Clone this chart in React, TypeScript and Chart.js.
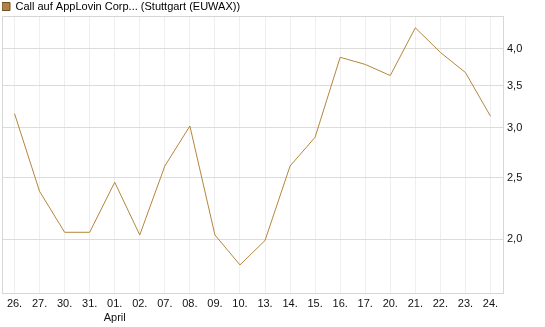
import React, { useEffect, useRef } from "react";
import { Chart, registerables } from "chart.js";

Chart.register(...registerables);

const categories = ["26.", "27.", "30.", "31.", "01.", "02.", "07.", "08.", "09.", "10.", "13.", "14.", "15.", "16.", "17.", "20.", "21.", "22.", "23.", "24."];
const monthLabels = ["", "", "", "", "April", "", "", "", "", "", "", "", "", "", "", "", "", "", "", ""];
const values = [3.16, 2.38, 2.05, 2.05, 2.46, 2.03, 2.61, 3.02, 2.03, 1.82, 1.99, 2.61, 2.9, 3.88, 3.78, 3.63, 4.32, 3.95, 3.67, 3.13];
const yTicks = [2.0, 2.5, 3.0, 3.5, 4.0];
const Y_MIN = 1.643;
const Y_MAX = 4.51;
const seriesName = "Call auf AppLovin Corp... (Stuttgart (EUWAX))";

const FONT = "Arial, 'Liberation Sans', sans-serif";

const frame = {
  id: "frame",
  beforeLayout(chart: any) {
    const lg = chart.legend;
    if (lg && !lg.__wrapped) {
      const orig = lg.fit.bind(lg);
      lg.fit = () => {
        orig();
        lg.height = 15;
      };
      lg.__wrapped = true;
    }
  },
  afterDraw(chart: any) {
    const { ctx, chartArea } = chart;
    ctx.save();
    ctx.strokeStyle = "#d6d6d6";
    ctx.lineWidth = 1;
    ctx.beginPath();
    ctx.moveTo(Math.round(chartArea.left) + 0.5, Math.round(chartArea.bottom));
    ctx.lineTo(Math.round(chartArea.left) + 0.5, Math.round(chartArea.top) + 0.5);
    ctx.lineTo(Math.round(chartArea.right), Math.round(chartArea.top) + 0.5);
    ctx.stroke();
    ctx.restore();
  },
};

export default function App() {
  const ref = useRef<HTMLCanvasElement | null>(null);
  useEffect(() => {
    if (!ref.current) return;
    const labels = categories.map((c, i) => (monthLabels[i] ? [c, monthLabels[i]] : c));
    const chart = new Chart(ref.current, {
      type: "line",
      data: {
        labels,
        datasets: [
          {
            label: seriesName,
            data: values,
            borderColor: "#b5853c",
            backgroundColor: "#b08246",
            borderWidth: 1,
            pointRadius: 0,
            tension: 0,
            fill: false,
          },
        ],
      },
      options: {
        animation: false,
        responsive: false,
        maintainAspectRatio: false,
        layout: { padding: { left: 2, top: 1, right: 0, bottom: 0 } },
        plugins: {
          legend: {
            display: true,
            position: "top",
            align: "start",
            labels: {
              boxWidth: 8,
              boxHeight: 8,
              padding: 0,
              color: "#111",
              font: { family: FONT, size: 11 },
              generateLabels: () => [
                {
                  text: seriesName,
                  fillStyle: "#b08246",
                  strokeStyle: "#6f5024",
                  lineWidth: 1,
                  datasetIndex: 0,
                  hidden: false,
                },
              ],
            },
          },
          tooltip: { enabled: false },
        },
        scales: {
          x: {
            type: "category",
            offset: true,
            grid: { offset: false, color: "#efefef", drawTicks: false },
            border: { color: "#d6d6d6" },
            ticks: {
              autoSkip: false,
              maxRotation: 0,
              padding: 4,
              color: "#111",
              font: { family: FONT, size: 11, lineHeight: 1.3 },
            },
            afterFit: (scale: any) => {
              scale.height = 34;
            },
          },
          y: {
            type: "logarithmic",
            position: "right",
            bounds: "data",
            min: Y_MIN,
            max: Y_MAX,
            grid: { color: "#dcdcdc", drawTicks: false },
            border: { color: "#d6d6d6" },
            afterBuildTicks: (scale: any) => {
              scale.ticks = yTicks.map((v) => ({ value: v }));
              scale.min = Y_MIN;
              scale.max = Y_MAX;
            },
            ticks: {
              padding: 4,
              color: "#111",
              font: { family: FONT, size: 11 },
              callback: (v: any) => Number(v).toFixed(1).replace(".", ","),
            },
            afterFit: (scale: any) => {
              scale.width = 42;
            },
          },
        },
      },
      plugins: [frame],
    });
    return () => chart.destroy();
  }, []);
  return (
    <div style={{ position: "fixed", left: 0, top: 0, width: 545, height: 327, background: "#fff" }}>
      <canvas ref={ref} width={545} height={327} style={{ width: 545, height: 327 }} />
    </div>
  );
}
